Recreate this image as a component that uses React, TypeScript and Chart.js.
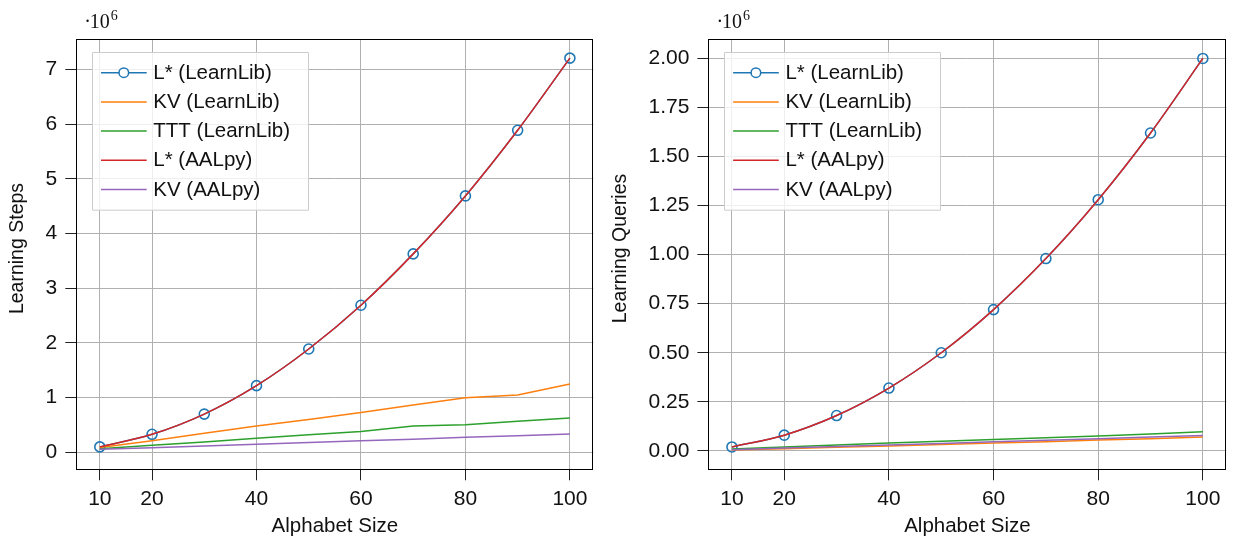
import React, { useEffect, useRef } from "react";
import { Chart, registerables } from "chart.js";

Chart.register(...registerables);

// ---------- data ----------
const alphabetSizes = [10, 20, 30, 40, 50, 60, 70, 80, 90, 100];
const seriesNames = ["L* (LearnLib)", "KV (LearnLib)", "TTT (LearnLib)", "L* (AALpy)", "KV (AALpy)"];
const seriesColors = ["#1f77b4", "#ff7f0e", "#2ca02c", "#d62728", "#9467bd"];

// Learning steps (· 10^6)
const stepsLStarLearnLib = [0.1, 0.33, 0.7, 1.22, 1.89, 2.69, 3.63, 4.69, 5.89, 7.21];
const stepsKVLearnLib = [0.09, 0.21, 0.35, 0.48, 0.6, 0.73, 0.865, 1.0, 1.05, 1.25];
const stepsTTTLearnLib = [0.066, 0.13, 0.19, 0.256, 0.32, 0.38, 0.48, 0.505, 0.57, 0.63];
const stepsLStarAALpy = [0.1, 0.33, 0.7, 1.22, 1.89, 2.69, 3.63, 4.69, 5.89, 7.21];
const stepsKVAALpy = [0.055, 0.084, 0.115, 0.147, 0.18, 0.21, 0.24, 0.275, 0.305, 0.335];

// Learning queries (· 10^6)
const queriesLStarLearnLib = [0.02, 0.08, 0.18, 0.32, 0.5, 0.72, 0.98, 1.28, 1.62, 2.0];
const queriesKVLearnLib = [0.004, 0.011, 0.018, 0.025, 0.032, 0.04, 0.047, 0.055, 0.062, 0.07];
const queriesTTTLearnLib = [0.01, 0.02, 0.03, 0.04, 0.049, 0.058, 0.067, 0.076, 0.086, 0.097];
const queriesLStarAALpy = [0.02, 0.08, 0.18, 0.32, 0.5, 0.72, 0.98, 1.28, 1.62, 2.0];
const queriesKVAALpy = [0.006, 0.014, 0.022, 0.03, 0.038, 0.046, 0.054, 0.062, 0.07, 0.078];

// ticks
const xTickValues = [10, 20, 40, 60, 80, 100];
const stepsTickValues = [0, 1, 2, 3, 4, 5, 6, 7];
const queriesTickValues = [0, 0.25, 0.5, 0.75, 1.0, 1.25, 1.5, 1.75, 2.0];

const xTitle = "Alphabet Size";
const stepsTitle = "Learning Steps";
const queriesTitle = "Learning Queries";
const exponentBase = "10";
const exponentPower = "6";

const SANS = "'Liberation Sans', Arial, Helvetica, sans-serif";
const SERIF = "'Liberation Serif', 'DejaVu Serif', serif";
const H = 541;

type PanelCfg = {
  width: number;
  areaLeft: number;
  areaRight: number;
  yMin: number;
  yMax: number;
  yTicks: number[];
  yDecimals: number;
  yTitle: string;
  yTitleX: number;
  series: number[][];
};

function makeChart(canvas: HTMLCanvasElement, cfg: PanelCfg) {
  const top = 39;
  const bottom = 469.3;

  const datasets = cfg.series.map((vals, i) => ({
    label: seriesNames[i],
    data: alphabetSizes.map((x, j) => ({ x, y: vals[j] })),
    borderColor: seriesColors[i],
    backgroundColor: seriesColors[i],
    borderWidth: 1.5,
    pointRadius: i === 0 ? 5 : 0,
    pointHoverRadius: i === 0 ? 5 : 0,
    pointBorderWidth: 1.6,
    pointBorderColor: seriesColors[i],
    pointBackgroundColor: "rgba(0,0,0,0)",
    cubicInterpolationMode: i === 0 || i === 3 ? ("monotone" as const) : ("default" as const),
    tension: 0,
    fill: false,
    order: 4 - i,
  }));

  const overlay = {
    id: "overlay",
    afterDraw(chart: any) {
      const ctx = chart.ctx as CanvasRenderingContext2D;
      const a = chart.chartArea;
      ctx.save();
      // frame
      ctx.strokeStyle = "#000";
      ctx.lineWidth = 1;
      ctx.strokeRect(Math.round(a.left) + 0.5, Math.round(a.top) + 0.5, Math.round(a.right - a.left) - 1, Math.round(a.bottom - a.top));

      // legend
      const bx = a.left + 16;
      const by = a.top + 13.3;
      const bw = 216;
      const bh = 157.7;
      ctx.fillStyle = "rgba(255,255,255,0.8)";
      ctx.strokeStyle = "#cccccc";
      ctx.lineWidth = 1;
      ctx.beginPath();
      ctx.rect(Math.round(bx) + 0.5, Math.round(by) + 0.5, bw, bh);
      ctx.fill();
      ctx.stroke();
      ctx.font = `20.5px ${SANS}`;
      ctx.textBaseline = "middle";
      ctx.textAlign = "left";
      seriesNames.forEach((name, i) => {
        const ry = a.top + 33.7 + i * 29.2;
        ctx.strokeStyle = seriesColors[i];
        ctx.lineWidth = 1.5;
        ctx.beginPath();
        ctx.moveTo(bx + 8.7, ry);
        ctx.lineTo(bx + 54.4, ry);
        ctx.stroke();
        if (i === 0) {
          ctx.beginPath();
          ctx.arc(bx + 31.5, ry, 4.8, 0, Math.PI * 2);
          ctx.fillStyle = "#fff";
          ctx.fill();
          ctx.stroke();
        }
        ctx.fillStyle = "#111";
        ctx.fillText(name, bx + 61, ry + 0.5);
      });

      // exponent label
      const ex = a.left + 8;
      ctx.fillStyle = "#111";
      ctx.textBaseline = "alphabetic";
      ctx.font = `20px ${SERIF}`;
      ctx.fillText("\u00b7", ex, 27.5);
      ctx.fillText(exponentBase, ex + 5.5, 27.5);
      const w10 = ctx.measureText(exponentBase).width;
      ctx.font = `14px ${SERIF}`;
      ctx.fillText(exponentPower, ex + 5.5 + w10 + 1, 19.5);

      // y title
      ctx.save();
      ctx.translate(cfg.yTitleX, 248.5);
      ctx.rotate(-Math.PI / 2);
      ctx.font = `19.5px ${SANS}`;
      ctx.textAlign = "center";
      ctx.textBaseline = "middle";
      ctx.fillStyle = "#111";
      ctx.fillText(cfg.yTitle, 0, 0);
      ctx.restore();

      ctx.restore();
    },
  };

  return new Chart(canvas, {
    type: "line",
    data: { datasets },
    options: {
      animation: false,
      responsive: false,
      maintainAspectRatio: false,
      devicePixelRatio: 1,
      layout: { padding: { top, right: cfg.width - cfg.areaRight, left: 0, bottom: 0 } },
      plugins: { legend: { display: false }, tooltip: { enabled: false }, title: { display: false } },
      scales: {
        x: {
          type: "linear",
          min: 5.5,
          max: 104.5,
          afterBuildTicks: (s: any) => {
            s.ticks = xTickValues.map((v) => ({ value: v }));
          },
          afterFit: (s: any) => {
            s.height = H - bottom;
          },
          grid: { color: "#b0b0b0", lineWidth: 1, tickLength: 11, tickColor: "#222", tickWidth: 1, drawTicks: true },
          border: { display: false },
          ticks: {
            font: { family: SANS, size: 21 },
            color: "#111",
            padding: 6,
            maxRotation: 0,
            autoSkip: false,
            callback: (v: any) => String(v),
          },
          title: {
            display: true,
            text: xTitle,
            color: "#111",
            font: { family: SANS, size: 20.5 },
            padding: { top: 0, bottom: 2 },
          },
        },
        y: {
          type: "linear",
          min: cfg.yMin,
          max: cfg.yMax,
          afterBuildTicks: (s: any) => {
            s.ticks = cfg.yTicks.map((v) => ({ value: v }));
          },
          afterFit: (s: any) => {
            s.width = cfg.areaLeft;
          },
          grid: { color: "#b0b0b0", lineWidth: 1, tickLength: 11, tickColor: "#222", tickWidth: 1, drawTicks: true },
          border: { display: false },
          ticks: {
            font: { family: SANS, size: 21 },
            color: "#111",
            padding: 8,
            autoSkip: false,
            callback: (v: any) => Number(v).toFixed(cfg.yDecimals),
          },
          title: { display: false },
        },
      },
    },
    plugins: [overlay],
  } as any);
}

function Panel({ left, cfg }: { left: number; cfg: PanelCfg }) {
  const ref = useRef<HTMLCanvasElement | null>(null);
  useEffect(() => {
    if (!ref.current) return;
    const chart = makeChart(ref.current, cfg);
    return () => chart.destroy();
  }, []);
  return (
    <canvas
      ref={ref}
      width={cfg.width}
      height={H}
      style={{ position: "absolute", left, top: 0, width: cfg.width, height: H }}
    />
  );
}

export default function App() {
  const leftCfg: PanelCfg = {
    width: 600,
    areaLeft: 76.3,
    areaRight: 594.3,
    yMin: -0.31,
    yMax: 7.56,
    yTicks: stepsTickValues,
    yDecimals: 0,
    yTitle: stepsTitle,
    yTitleX: 18,
    series: [stepsLStarLearnLib, stepsKVLearnLib, stepsTTTLearnLib, stepsLStarAALpy, stepsKVAALpy],
  };
  const rightCfg: PanelCfg = {
    width: 633,
    areaLeft: 108.4,
    areaRight: 626.5,
    yMin: -0.094,
    yMax: 2.099,
    yTicks: queriesTickValues,
    yDecimals: 2,
    yTitle: queriesTitle,
    yTitleX: 20.5,
    series: [queriesLStarLearnLib, queriesKVLearnLib, queriesTTTLearnLib, queriesLStarAALpy, queriesKVAALpy],
  };
  return (
    <div style={{ position: "absolute", left: 0, top: 0, width: 1233, height: H, background: "#fff" }}>
      <Panel left={0} cfg={leftCfg} />
      <Panel left={600} cfg={rightCfg} />
    </div>
  );
}
